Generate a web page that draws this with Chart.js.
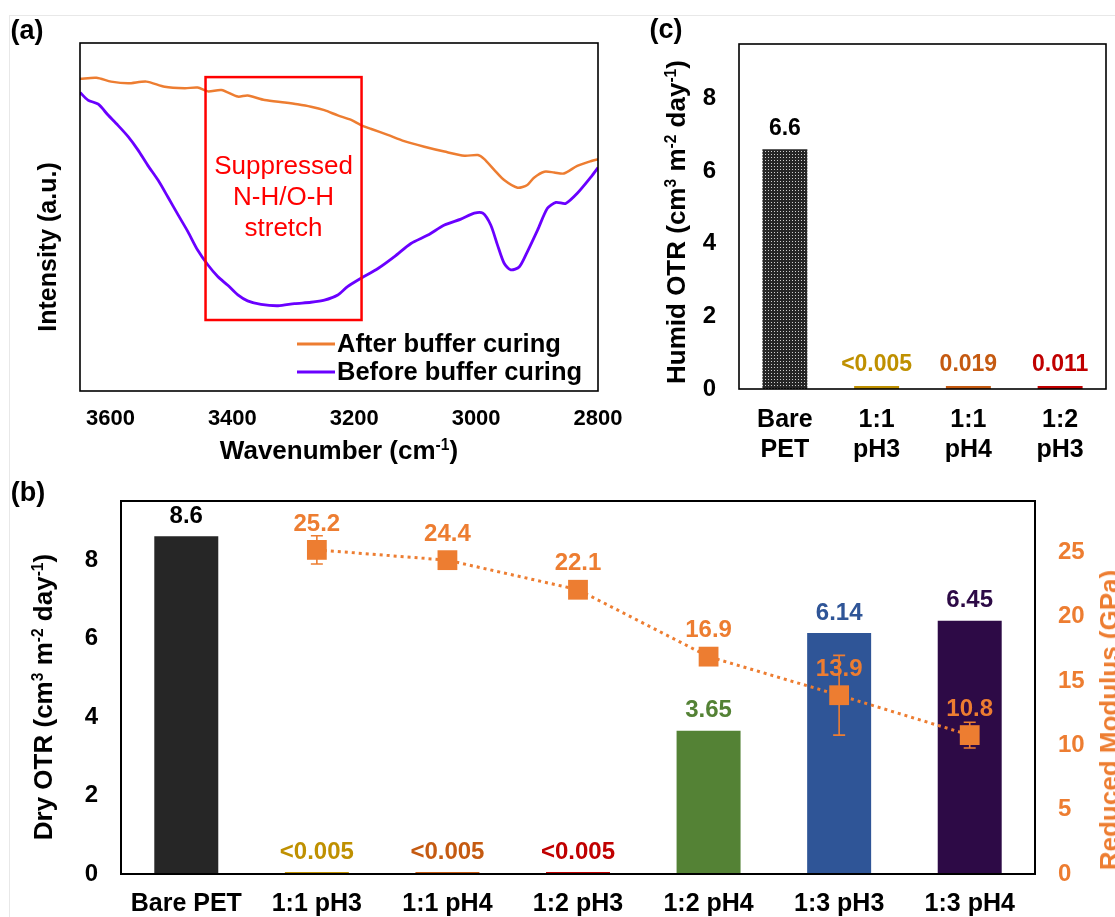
<!DOCTYPE html>
<html><head><meta charset="utf-8">
<script src="https://cdn.jsdelivr.net/npm/chart.js@4.4.1/dist/chart.umd.min.js"></script>
<style>
html,body{margin:0;padding:0;background:#fff;}
body{width:1115px;height:917px;overflow:hidden;position:relative;font-family:Arial,"Liberation Sans",sans-serif;}
canvas{position:absolute;}
.frame{position:absolute;left:9px;top:15px;width:1200px;height:1000px;border-left:1px solid #e8e8e8;border-top:1px solid #e8e8e8;}
.t{position:absolute;white-space:nowrap;font-weight:bold;font-size:26px;line-height:1;color:#000;transform:translate(-50%,-50%);}
.r{transform:translate(-50%,-50%) rotate(-90deg);}
sup{font-size:0.6em;position:relative;top:-0.55em;vertical-align:baseline;line-height:0;}
</style></head>
<body>
<div class="frame"></div>
<canvas id="ca" width="640" height="470" style="left:0;top:0"></canvas>
<canvas id="cc" width="495" height="470" style="left:620px;top:0"></canvas>
<canvas id="cb" width="1115" height="447" style="left:0;top:470px"></canvas>

<div class="t" style="left:27px;top:30px;font-size:27px">(a)</div>
<div class="t" style="left:666px;top:29px;font-size:27px">(c)</div>
<div class="t" style="left:28px;top:492px;font-size:27px">(b)</div>

<div class="t" style="left:339px;top:450px">Wavenumber (cm<sup>-1</sup>)</div>
<div class="t r" style="left:47px;top:247px;font-size:25px">Intensity (a.u.)</div>
<div class="t r" style="left:676px;top:222px">Humid OTR (cm<sup>3</sup> m<sup>-2</sup> day<sup>-1</sup>)</div>
<div class="t r" style="left:43px;top:697px">Dry OTR (cm<sup>3</sup> m<sup>-2</sup> day<sup>-1</sup>)</div>
<div class="t r" style="left:1109px;top:720px;color:#ED7D31">Reduced Modulus (GPa)</div>

<script>
// ---------- (a) FTIR spectra ----------
const wavenumberTicks = [3600, 3400, 3200, 3000, 2800];
const wavenumberAfter = [3650,3623,3599,3571,3541,3511,3478,3457,3440,3418,3391,3375,3347,3314,3293,3271,3249,3227,3205,3189,3172,3145,3118,3085,3052,3019,2997,2987,2970,2954,2932,2916,2905,2888,2872,2856,2834,2811,2800];
const intensityAfter = [89.7,90.0,88.9,88.4,88.9,87.4,87.0,87.2,86.1,86.5,84.6,84.9,83.6,82.9,82.4,81.7,80.7,79.2,77.9,76.4,75.3,73.6,71.8,70.2,68.8,67.6,67.8,66.7,63.5,60.6,58.4,59.2,61.3,63.0,62.8,62.5,64.7,66.1,66.6];
const wavenumberBefore = [3650,3637,3620,3604,3588,3571,3555,3539,3522,3506,3489,3473,3457,3440,3424,3407,3391,3375,3353,3325,3298,3271,3249,3227,3211,3189,3161,3134,3107,3079,3052,3025,3003,2989,2976,2965,2954,2943,2929,2916,2899,2883,2869,2853,2834,2811,2800];
const intensityBefore = [85.8,83.6,82.4,79.3,76.4,73.1,69.3,64.9,60.6,55.8,50.6,45.8,40.5,36.2,32.9,30.3,27.6,25.9,24.9,24.5,25.1,25.5,26.1,27.6,30.0,32.4,35.2,38.6,42.4,44.8,47.7,49.4,51.1,51.1,47.7,42.0,36.7,34.8,35.7,40.0,46.3,52.5,54.2,53.9,56.8,61.6,64.2];
const seriesNames = ['After buffer curing', 'Before buffer curing'];
const highlightWavenumber = [3444, 3188];
const highlightIntensity = [20.4, 90.2];
const highlightText = ['Suppressed', 'N-H/O-H', 'stretch'];

// ---------- (b) Dry OTR + modulus ----------
const dryCategories = ['Bare PET','1:1 pH3','1:1 pH4','1:2 pH3','1:2 pH4','1:3 pH3','1:3 pH4'];
const dryOTR = [8.6, 0.005, 0.005, 0.005, 3.65, 6.14, 6.45];
const dryOTRText = ['8.6','<0.005','<0.005','<0.005','3.65','6.14','6.45'];
const dryTicks = [0, 2, 4, 6, 8];
const modulus = [null, 25.2, 24.4, 22.1, 16.9, 13.9, 10.8];
const modulusErr = [null, 1.1, 0.4, 0.4, 0.4, 3.1, 1.0];
const modulusTicks = [0, 5, 10, 15, 20, 25];

// ---------- (c) Humid OTR ----------
const humidCategories = [['Bare','PET'],['1:1','pH3'],['1:1','pH4'],['1:2','pH3']];
const humidOTR = [6.6, 0.005, 0.019, 0.011];
const humidOTRText = ['6.6','<0.005','0.019','0.011'];
const humidTicks = [0, 2, 4, 6, 8];

const FONT = 'Arial, "Liberation Sans", sans-serif';
const ORANGE = '#ED7D31';
const PURPLE = '#6A00FF';
Chart.defaults.font.family = FONT;

const frameBox = (lw) => ({
  id: 'frameBox',
  afterDraw(chart) {
    const a = chart.chartArea, ctx = chart.ctx;
    ctx.save(); ctx.strokeStyle = '#000'; ctx.lineWidth = lw;
    ctx.strokeRect(a.left, a.top, a.right - a.left, a.bottom - a.top);
    ctx.restore();
  }
});
const noGrid = {display:false, drawTicks:false};
const fixTicks = (arr) => (s) => { s.ticks = arr.map(v => ({value: v})); };
const vFit = (w) => (s) => { s.width = w; s.paddingTop = 0; s.paddingBottom = 0; };

// ===== Chart (a) =====
const annotA = {
  id: 'annotA',
  afterDatasetsDraw(chart) {
    const ctx = chart.ctx, xs = chart.scales.x, ys = chart.scales.y;
    const x1 = xs.getPixelForValue(highlightWavenumber[0]), x2 = xs.getPixelForValue(highlightWavenumber[1]);
    const y1 = ys.getPixelForValue(highlightIntensity[1]), y2 = ys.getPixelForValue(highlightIntensity[0]);
    ctx.save();
    ctx.strokeStyle = '#FF0000'; ctx.lineWidth = 2.5;
    ctx.strokeRect(x1, y1, x2 - x1, y2 - y1);
    ctx.fillStyle = '#FF0000'; ctx.font = '26px ' + FONT;
    ctx.textAlign = 'center'; ctx.textBaseline = 'middle';
    highlightText.forEach((t, i) => ctx.fillText(t, (x1 + x2) / 2, y1 + 90 + i * 31));
    ctx.font = 'bold 25.5px ' + FONT; ctx.textAlign = 'left';
    chart.data.datasets.forEach((d, i) => {
      const y = 344 + i * 28;
      ctx.strokeStyle = d.borderColor; ctx.lineWidth = 3;
      ctx.beginPath(); ctx.moveTo(297, y); ctx.lineTo(335, y); ctx.stroke();
      ctx.fillStyle = '#000'; ctx.fillText(d.label, 337, y + 1);
    });
    ctx.restore();
  }
};
new Chart(document.getElementById('ca'), {
  type: 'line',
  data: { datasets: [
    { label: seriesNames[0], data: wavenumberAfter.map((x, i) => ({x, y: intensityAfter[i]})),
      borderColor: ORANGE, borderWidth: 2.5, pointRadius: 0, tension: 0.25 },
    { label: seriesNames[1], data: wavenumberBefore.map((x, i) => ({x, y: intensityBefore[i]})),
      borderColor: PURPLE, borderWidth: 2.8, pointRadius: 0, tension: 0.25 }
  ]},
  options: {
    responsive: false, animation: false, devicePixelRatio: 1,
    layout: {padding: {left: 80, top: 43, right: 42, bottom: 0}, autoPadding: false},
    plugins: {legend: {display: false}, tooltip: {enabled: false}},
    scales: {
      x: { type: 'linear', reverse: true, min: 2800, max: 3650, grid: noGrid, border: {display: false},
        ticks: {color: '#000', font: {size: 22, weight: 'bold'}, padding: 15, maxRotation: 0, autoSkip: false, callback: v => String(v)},
        afterBuildTicks: fixTicks(wavenumberTicks),
        afterFit(s) { s.height = 79; s.paddingLeft = 0; s.paddingRight = 0; } },
      y: { display: false, min: 0, max: 100 }
    }
  },
  plugins: [annotA, frameBox(1.6)]
});

// ===== Chart (c) =====
const ctxC = document.getElementById('cc').getContext('2d');
const tile = document.createElement('canvas'); tile.width = 3; tile.height = 3;
const tg = tile.getContext('2d');
tg.fillStyle = '#262626'; tg.fillRect(0, 0, 3, 3);
tg.fillStyle = '#cfcfcf'; tg.fillRect(1, 1, 1, 1);
const dotPattern = ctxC.createPattern(tile, 'repeat');
const humidColors = [dotPattern, '#BF9000', '#C55A11', '#C00000'];
const humidLabelColors = ['#000', '#BF9000', '#C55A11', '#C00000'];
const labelsC = {
  id: 'labelsC',
  afterDatasetsDraw(chart) {
    const ctx = chart.ctx;
    ctx.save(); ctx.font = 'bold 23px ' + FONT; ctx.textAlign = 'center'; ctx.textBaseline = 'middle';
    chart.getDatasetMeta(0).data.forEach((b, i) => {
      ctx.fillStyle = humidLabelColors[i]; ctx.fillText(humidOTRText[i], b.x, b.y - 21);
    });
    ctx.restore();
  }
};
new Chart(ctxC, {
  type: 'bar',
  data: { labels: humidCategories, datasets: [
    { data: humidOTR, backgroundColor: humidColors, borderWidth: 0, barPercentage: 0.49, categoryPercentage: 1, minBarLength: 3 }
  ]},
  options: {
    responsive: false, animation: false, devicePixelRatio: 1,
    layout: {padding: {left: 0, top: 44, right: 9, bottom: 0}, autoPadding: false},
    plugins: {legend: {display: false}, tooltip: {enabled: false}},
    scales: {
      x: { grid: noGrid, border: {display: false},
        ticks: {color: '#000', font: {size: 25, weight: 'bold'}, padding: 16, maxRotation: 0, autoSkip: false},
        afterFit(s) { s.height = 81; s.paddingLeft = 0; s.paddingRight = 0; } },
      y: { min: 0, max: 9.5, grid: noGrid, border: {display: false},
        ticks: {color: '#000', font: {size: 24, weight: 'bold'}, padding: 23},
        afterBuildTicks: fixTicks(humidTicks),
        afterFit: vFit(119) }
    }
  },
  plugins: [labelsC, frameBox(1.6)]
});

// ===== Chart (b) =====
const dryColors = ['#262626', '#BF9000', '#C55A11', '#C00000', '#548235', '#2F5597', '#2D0A46'];
const dryLabelColors = ['#000', '#BF9000', '#C55A11', '#C00000', '#548235', '#2F5597', '#2D0A46'];
const labelsB = {
  id: 'labelsB',
  afterDatasetDraw(chart, args) {
    if (args.index !== 0) return;
    const ctx = chart.ctx, y1 = chart.scales.y1;
    const bars = chart.getDatasetMeta(0).data, pts = chart.getDatasetMeta(1).data;
    ctx.save(); ctx.textAlign = 'center'; ctx.textBaseline = 'middle';
    ctx.font = 'bold 24px ' + FONT;
    bars.forEach((b, i) => { ctx.fillStyle = dryLabelColors[i]; ctx.fillText(dryOTRText[i], b.x, b.y - 20); });
    ctx.fillStyle = ORANGE;
    modulus.forEach((v, i) => { if (v == null) return; ctx.fillText(v.toFixed(1), pts[i].x, y1.getPixelForValue(v) - 26); });
    ctx.strokeStyle = ORANGE; ctx.lineWidth = 1.6;
    modulus.forEach((v, i) => {
      const e = modulusErr[i]; if (v == null || e == null) return;
      const x = pts[i].x, yt = y1.getPixelForValue(v + e), yb = y1.getPixelForValue(v - e);
      ctx.beginPath();
      ctx.moveTo(x, yt); ctx.lineTo(x, yb);
      ctx.moveTo(x - 6, yt); ctx.lineTo(x + 6, yt);
      ctx.moveTo(x - 6, yb); ctx.lineTo(x + 6, yb);
      ctx.stroke();
    });
    ctx.restore();
  }
};
new Chart(document.getElementById('cb'), {
  data: { labels: dryCategories, datasets: [
    { type: 'bar', data: dryOTR, backgroundColor: dryColors, borderWidth: 0, barPercentage: 0.49, categoryPercentage: 1, minBarLength: 2, yAxisID: 'y', order: 2 },
    { type: 'line', data: modulus, yAxisID: 'y1', order: 1, borderColor: ORANGE, borderWidth: 3, borderDash: [3, 4],
      pointStyle: 'rect', pointRadius: 14, pointBackgroundColor: ORANGE, pointBorderWidth: 0, tension: 0 }
  ]},
  options: {
    responsive: false, animation: false, devicePixelRatio: 1,
    layout: {padding: {left: 0, top: 31, right: 0, bottom: 0}, autoPadding: false},
    plugins: {legend: {display: false}, tooltip: {enabled: false}},
    scales: {
      x: { grid: noGrid, border: {display: false},
        ticks: {color: '#000', font: {size: 25, weight: 'bold'}, padding: 15, maxRotation: 0, autoSkip: false},
        afterFit(s) { s.height = 43; s.paddingLeft = 0; s.paddingRight = 0; } },
      y: { position: 'left', min: 0, max: 9.5, grid: noGrid, border: {display: false},
        ticks: {color: '#000', font: {size: 24, weight: 'bold'}, padding: 23},
        afterBuildTicks: fixTicks(dryTicks),
        afterFit: vFit(121) },
      y1: { position: 'right', min: 0, max: 29, grid: noGrid, border: {display: false},
        ticks: {color: ORANGE, font: {size: 24, weight: 'bold'}, padding: 23},
        afterBuildTicks: fixTicks(modulusTicks),
        afterFit: vFit(80) }
    }
  },
  plugins: [labelsB, frameBox(2)]
});
</script>
</body></html>
